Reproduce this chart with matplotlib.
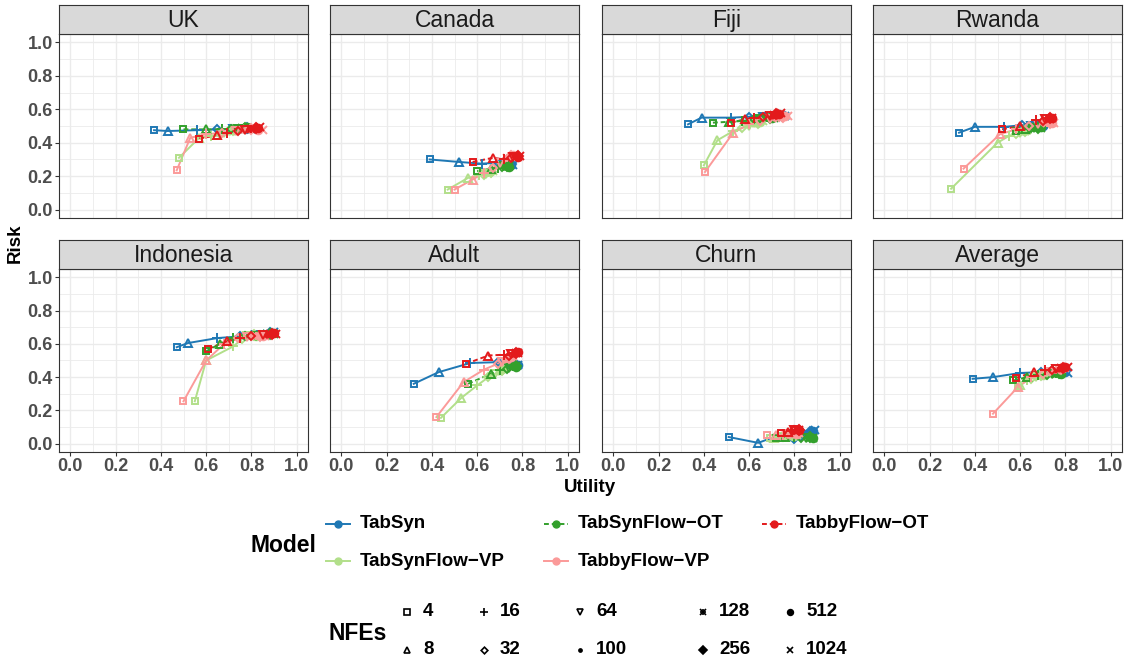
import matplotlib
matplotlib.use("Agg")
import matplotlib.pyplot as plt
from matplotlib.ticker import MultipleLocator

plt.rcParams['font.family'] = ['Liberation Sans', 'DejaVu Sans']

# NFE steps and models
nfe = [4, 8, 16, 32, 64, 100, 128, 256, 512, 1024]
models = ['TabSyn', 'TabSynFlow-VP', 'TabSynFlow-OT', 'TabbyFlow-VP', 'TabbyFlow-OT']
datasets = ['UK', 'Canada', 'Fiji', 'Rwanda', 'Indonesia', 'Adult', 'Churn', 'Average']

# (utility, risk) per model, one value per NFE step
uk = {
    'TabSyn': ([0.37, 0.43, 0.56, 0.65, 0.72, 0.75, 0.77, 0.78, 0.79, 0.80],
               [0.475, 0.47, 0.475, 0.48, 0.48, 0.485, 0.485, 0.49, 0.49, 0.485]),
    'TabSynFlow-OT': ([0.50, 0.60, 0.67, 0.71, 0.74, 0.75, 0.76, 0.77, 0.78, 0.78],
                      [0.48, 0.48, 0.48, 0.485, 0.485, 0.49, 0.49, 0.49, 0.495, 0.49]),
    'TabbyFlow-OT': ([0.57, 0.65, 0.69, 0.74, 0.77, 0.79, 0.80, 0.82, 0.83, 0.84],
                     [0.425, 0.445, 0.46, 0.47, 0.475, 0.48, 0.485, 0.49, 0.49, 0.495]),
    'TabSynFlow-VP': ([0.48, 0.57, 0.62, 0.66, 0.68, 0.70, 0.71, 0.72, 0.73, 0.74],
                      [0.31, 0.43, 0.44, 0.45, 0.46, 0.465, 0.47, 0.475, 0.475, 0.48]),
    'TabbyFlow-VP': ([0.47, 0.53, 0.60, 0.67, 0.73, 0.76, 0.78, 0.80, 0.83, 0.85],
                     [0.235, 0.43, 0.45, 0.46, 0.47, 0.475, 0.48, 0.48, 0.475, 0.475]),
}
canada = {
    'TabSyn': ([0.39, 0.52, 0.62, 0.69, 0.72, 0.73, 0.74, 0.75, 0.75, 0.76],
               [0.30, 0.285, 0.275, 0.28, 0.27, 0.27, 0.265, 0.27, 0.265, 0.265]),
    'TabSynFlow-OT': ([0.60, 0.66, 0.69, 0.71, 0.72, 0.72, 0.73, 0.73, 0.74, 0.74],
                      [0.23, 0.245, 0.25, 0.255, 0.26, 0.255, 0.26, 0.26, 0.255, 0.26]),
    'TabbyFlow-OT': ([0.58, 0.67, 0.72, 0.75, 0.76, 0.77, 0.77, 0.78, 0.78, 0.79],
                     [0.285, 0.31, 0.30, 0.31, 0.315, 0.32, 0.315, 0.32, 0.315, 0.32]),
    'TabSynFlow-VP': ([0.47, 0.56, 0.61, 0.63, 0.64, 0.645, 0.65, 0.66, 0.66, 0.67],
                      [0.12, 0.19, 0.205, 0.21, 0.215, 0.22, 0.22, 0.225, 0.23, 0.23]),
    'TabbyFlow-VP': ([0.50, 0.58, 0.63, 0.67, 0.70, 0.72, 0.73, 0.75, 0.76, 0.77],
                     [0.12, 0.18, 0.22, 0.25, 0.28, 0.30, 0.31, 0.32, 0.325, 0.32]),
}
fiji = {
    'TabSyn': ([0.33, 0.39, 0.52, 0.60, 0.66, 0.69, 0.71, 0.73, 0.75, 0.76],
               [0.51, 0.55, 0.55, 0.555, 0.555, 0.56, 0.56, 0.56, 0.565, 0.56]),
    'TabSynFlow-OT': ([0.44, 0.51, 0.57, 0.62, 0.65, 0.67, 0.68, 0.69, 0.70, 0.71],
                      [0.52, 0.525, 0.53, 0.54, 0.54, 0.545, 0.545, 0.55, 0.545, 0.55]),
    'TabbyFlow-OT': ([0.52, 0.58, 0.62, 0.66, 0.69, 0.70, 0.71, 0.72, 0.73, 0.74],
                     [0.52, 0.54, 0.55, 0.555, 0.56, 0.56, 0.565, 0.57, 0.57, 0.575]),
    'TabSynFlow-VP': ([0.40, 0.46, 0.53, 0.57, 0.60, 0.62, 0.63, 0.64, 0.65, 0.66],
                      [0.265, 0.415, 0.47, 0.49, 0.50, 0.51, 0.515, 0.52, 0.525, 0.53]),
    'TabbyFlow-VP': ([0.405, 0.53, 0.60, 0.65, 0.69, 0.71, 0.73, 0.75, 0.76, 0.77],
                     [0.225, 0.46, 0.51, 0.53, 0.54, 0.545, 0.55, 0.555, 0.56, 0.56]),
}
rwanda = {
    'TabSyn': ([0.33, 0.40, 0.53, 0.61, 0.65, 0.67, 0.68, 0.69, 0.70, 0.70],
               [0.46, 0.495, 0.495, 0.505, 0.50, 0.50, 0.505, 0.50, 0.50, 0.505]),
    'TabSynFlow-OT': ([0.58, 0.62, 0.64, 0.65, 0.66, 0.665, 0.67, 0.68, 0.69, 0.69],
                      [0.47, 0.48, 0.485, 0.49, 0.49, 0.49, 0.495, 0.49, 0.495, 0.49]),
    'TabbyFlow-OT': ([0.52, 0.60, 0.67, 0.70, 0.71, 0.72, 0.73, 0.73, 0.74, 0.74],
                     [0.48, 0.50, 0.535, 0.53, 0.54, 0.545, 0.54, 0.55, 0.545, 0.55]),
    'TabSynFlow-VP': ([0.295, 0.50, 0.55, 0.58, 0.60, 0.61, 0.62, 0.62, 0.63, 0.63],
                      [0.125, 0.40, 0.44, 0.455, 0.46, 0.465, 0.47, 0.47, 0.475, 0.475]),
    'TabbyFlow-VP': ([0.35, 0.51, 0.58, 0.64, 0.68, 0.70, 0.72, 0.73, 0.74, 0.75],
                     [0.245, 0.45, 0.48, 0.50, 0.51, 0.515, 0.52, 0.52, 0.515, 0.52]),
}
indonesia = {
    'TabSyn': ([0.47, 0.52, 0.65, 0.75, 0.82, 0.85, 0.87, 0.88, 0.89, 0.90],
               [0.58, 0.605, 0.635, 0.645, 0.655, 0.66, 0.66, 0.665, 0.665, 0.67]),
    'TabSynFlow-OT': ([0.60, 0.66, 0.72, 0.77, 0.82, 0.85, 0.87, 0.88, 0.89, 0.90],
                      [0.555, 0.60, 0.635, 0.645, 0.65, 0.655, 0.66, 0.66, 0.665, 0.66]),
    'TabbyFlow-OT': ([0.61, 0.69, 0.75, 0.80, 0.85, 0.87, 0.88, 0.89, 0.90, 0.91],
                     [0.57, 0.615, 0.635, 0.645, 0.655, 0.655, 0.66, 0.66, 0.665, 0.66]),
    'TabSynFlow-VP': ([0.55, 0.60, 0.72, 0.76, 0.78, 0.79, 0.80, 0.81, 0.82, 0.83],
                      [0.255, 0.50, 0.585, 0.63, 0.645, 0.65, 0.65, 0.655, 0.65, 0.655]),
    'TabbyFlow-VP': ([0.50, 0.60, 0.68, 0.74, 0.78, 0.80, 0.82, 0.84, 0.85, 0.86],
                     [0.255, 0.50, 0.60, 0.635, 0.64, 0.645, 0.645, 0.65, 0.65, 0.65]),
}
adult = {
    'TabSyn': ([0.32, 0.43, 0.57, 0.69, 0.73, 0.75, 0.76, 0.77, 0.78, 0.78],
               [0.36, 0.43, 0.485, 0.49, 0.48, 0.48, 0.475, 0.475, 0.47, 0.475]),
    'TabSynFlow-OT': ([0.56, 0.66, 0.70, 0.73, 0.74, 0.75, 0.76, 0.77, 0.77, 0.77],
                      [0.36, 0.42, 0.44, 0.45, 0.455, 0.46, 0.46, 0.465, 0.46, 0.465]),
    'TabbyFlow-OT': ([0.55, 0.65, 0.72, 0.74, 0.75, 0.76, 0.77, 0.77, 0.78, 0.78],
                     [0.48, 0.53, 0.535, 0.53, 0.54, 0.54, 0.545, 0.545, 0.55, 0.545]),
    'TabSynFlow-VP': ([0.44, 0.53, 0.60, 0.65, 0.68, 0.69, 0.70, 0.71, 0.71, 0.72],
                      [0.155, 0.275, 0.35, 0.40, 0.42, 0.43, 0.44, 0.445, 0.45, 0.455]),
    'TabbyFlow-VP': ([0.42, 0.54, 0.63, 0.69, 0.71, 0.72, 0.73, 0.74, 0.75, 0.76],
                     [0.16, 0.37, 0.445, 0.48, 0.49, 0.50, 0.51, 0.515, 0.52, 0.525]),
}
churn = {
    'TabSyn': ([0.51, 0.64, 0.75, 0.80, 0.83, 0.85, 0.86, 0.87, 0.88, 0.89],
               [0.04, 0.005, 0.06, 0.03, 0.04, 0.05, 0.06, 0.07, 0.075, 0.08]),
    'TabSynFlow-OT': ([0.72, 0.76, 0.80, 0.83, 0.85, 0.86, 0.87, 0.87, 0.88, 0.88],
                      [0.035, 0.04, 0.04, 0.035, 0.035, 0.04, 0.035, 0.04, 0.035, 0.035]),
    'TabbyFlow-OT': ([0.74, 0.77, 0.79, 0.80, 0.80, 0.81, 0.81, 0.82, 0.82, 0.82],
                     [0.065, 0.07, 0.075, 0.08, 0.08, 0.085, 0.08, 0.085, 0.08, 0.08]),
    'TabSynFlow-VP': ([0.69, 0.71, 0.73, 0.75, 0.76, 0.77, 0.78, 0.79, 0.80, 0.81],
                      [0.035, 0.035, 0.04, 0.04, 0.04, 0.045, 0.045, 0.05, 0.045, 0.05]),
    'TabbyFlow-VP': ([0.68, 0.72, 0.75, 0.77, 0.78, 0.79, 0.80, 0.80, 0.81, 0.82],
                     [0.05, 0.055, 0.055, 0.06, 0.06, 0.065, 0.06, 0.065, 0.06, 0.065]),
}
average = {
    'TabSyn': ([0.39, 0.48, 0.60, 0.69, 0.74, 0.76, 0.77, 0.79, 0.80, 0.81],
               [0.39, 0.40, 0.425, 0.43, 0.43, 0.43, 0.43, 0.43, 0.43, 0.425]),
    'TabSynFlow-OT': ([0.57, 0.63, 0.68, 0.72, 0.74, 0.75, 0.76, 0.77, 0.78, 0.78],
                      [0.38, 0.40, 0.41, 0.415, 0.42, 0.42, 0.42, 0.425, 0.42, 0.425]),
    'TabbyFlow-OT': ([0.58, 0.66, 0.71, 0.74, 0.76, 0.77, 0.78, 0.79, 0.80, 0.81],
                     [0.395, 0.43, 0.44, 0.445, 0.45, 0.45, 0.455, 0.455, 0.46, 0.46]),
    'TabSynFlow-VP': ([0.59, 0.60, 0.63, 0.65, 0.67, 0.68, 0.69, 0.69, 0.70, 0.70],
                      [0.335, 0.35, 0.38, 0.39, 0.40, 0.405, 0.41, 0.41, 0.415, 0.415]),
    'TabbyFlow-VP': ([0.48, 0.59, 0.65, 0.70, 0.73, 0.75, 0.76, 0.78, 0.79, 0.80],
                     [0.18, 0.34, 0.40, 0.42, 0.43, 0.44, 0.445, 0.45, 0.455, 0.455]),
}
panels = [uk, canada, fiji, rwanda, indonesia, adult, churn, average]

# styles
colors = {'TabSyn': '#1F78B4', 'TabSynFlow-VP': '#B2DF8A', 'TabSynFlow-OT': '#33A02C',
          'TabbyFlow-VP': '#FB9A99', 'TabbyFlow-OT': '#E31A1C'}
dashes = {'TabSyn': '-', 'TabSynFlow-VP': '-', 'TabSynFlow-OT': (0, (2.5, 1.5)),
          'TabbyFlow-VP': '-', 'TabbyFlow-OT': (0, (2.5, 1.5))}
# marker(s), filled, size  -- 128 is an asterisk: '+' drawn over 'x'
shapes = {4: (['s'], False, 5.0), 8: (['^'], False, 5.5), 16: (['+'], True, 7.0),
          32: (['D'], False, 4.5), 64: (['v'], False, 5.5), 100: (['o'], True, 3.0),
          128: (['+', 'x'], True, 6.0), 256: (['D'], True, 5.0), 512: (['o'], True, 5.5),
          1024: (['x'], True, 5.5)}

W, H = 1126, 657
fig = plt.figure(figsize=(W / 100, H / 100), dpi=100)


def rect(l, t, r, b):
    return [l / W, 1 - b / H, (r - l) / W, (b - t) / H]


col_left = [59, 330, 602, 873]
pw = 249
rows = [(5, 34, 218), (240, 269, 452)]
tick_col = '#4D4D4D'
edge = '#333333'


def draw_point(ax, x, y, n, c, scale=1.0, mew=1.4, z=4):
    marks, filled, s = shapes[n]
    for m in marks:
        if filled:
            ax.plot(x, y, marker=m, ms=s * scale, color=c, mec=c, mew=mew,
                    ls='none', zorder=z)
        else:
            ax.plot(x, y, marker=m, ms=s * scale, mfc='none', mec=c, mew=mew,
                    ls='none', zorder=z)


for k, (name, data) in enumerate(zip(datasets, panels)):
    r, c = divmod(k, 4)
    st, pt, pb = rows[r]
    l = col_left[c]
    ax = fig.add_axes(rect(l, pt, l + pw, pb))
    ax.set_xlim(-0.05, 1.05)
    ax.set_ylim(-0.05, 1.05)
    ax.xaxis.set_major_locator(MultipleLocator(0.2))
    ax.yaxis.set_major_locator(MultipleLocator(0.2))
    ax.xaxis.set_minor_locator(MultipleLocator(0.1))
    ax.yaxis.set_minor_locator(MultipleLocator(0.1))
    ax.grid(which='major', color='#EBEBEB', lw=1.0)
    ax.grid(which='minor', color='#EBEBEB', lw=0.6)
    ax.set_axisbelow(True)
    for sp in ax.spines.values():
        sp.set_color(edge)
        sp.set_linewidth(0.8)
    ax.tick_params(which='minor', length=0)
    ax.tick_params(which='major', length=3, width=0.8, color=edge, pad=1.5,
                   labelsize=13, labelcolor=tick_col)
    if c == 0:
        ax.set_yticklabels([f'{v:.1f}' for v in ax.get_yticks()], fontweight='bold')
    else:
        ax.tick_params(axis='y', labelleft=False, length=0)
    if r == 1:
        ax.set_xticklabels([f'{v:.1f}' for v in ax.get_xticks()], fontweight='bold')
    else:
        ax.tick_params(axis='x', labelbottom=False, length=0)

    for mname in models:
        xs, ys = data[mname]
        ax.plot(xs, ys, color=colors[mname], ls=dashes[mname], lw=1.4, zorder=3)
    for mname in models:
        xs, ys = data[mname]
        for i, n in enumerate(nfe):
            draw_point(ax, xs[i], ys[i], n, colors[mname])

    # facet strip
    sax = fig.add_axes(rect(l, st, l + pw, pt))
    sax.set_facecolor('#D9D9D9')
    sax.set_xticks([])
    sax.set_yticks([])
    for sp in sax.spines.values():
        sp.set_color(edge)
        sp.set_linewidth(0.8)
    sax.text(0.5, 0.47, name, ha='center', va='center', fontsize=16.5,
             color='#1A1A1A', transform=sax.transAxes)

# axis titles and legends on an overlay in pixel coordinates
lax = fig.add_axes([0, 0, 1, 1], zorder=-1)
lax.set_xlim(0, W)
lax.set_ylim(H, 0)
lax.axis('off')

lax.text(590, 487, 'Utility', ha='center', va='center', fontsize=13.5, fontweight='bold')
lax.text(15, 243, 'Risk', ha='center', va='center', rotation=90, fontsize=13.5,
         fontweight='bold')

# Model legend (column-major, 2 rows)
lax.text(250, 545, 'Model', ha='left', va='center', fontsize=16.5, fontweight='bold')
key_x = [326, 544, 762]
row_y = [524, 561]
for i, mname in enumerate(models):
    cc, rr = divmod(i, 2)
    kx, ky = key_x[cc], row_y[rr]
    lax.plot([kx, kx + 24], [ky, ky], color=colors[mname], ls=dashes[mname], lw=1.4)
    lax.plot(kx + 12, ky, marker='o', ms=5, color=colors[mname])
    lax.text(kx + 34, ky, mname.replace('-', '\u2212'), ha='left', va='center',
             fontsize=13.5, fontweight='bold')

# NFEs legend
lax.text(328, 633, 'NFEs', ha='left', va='center', fontsize=16.5, fontweight='bold')
mark_x = [407, 484, 580, 703, 790]
nrow_y = [612, 650]
for i, n in enumerate(nfe):
    cc, rr = divmod(i, 2)
    mx, my = mark_x[cc], nrow_y[rr]
    draw_point(lax, mx, my, n, 'black', scale=0.75, mew=1.2)
    lax.text(mx + 16, my, str(n), ha='left', va='center', fontsize=13.5,
             fontweight='bold')

fig.savefig('out.png', dpi=100)
